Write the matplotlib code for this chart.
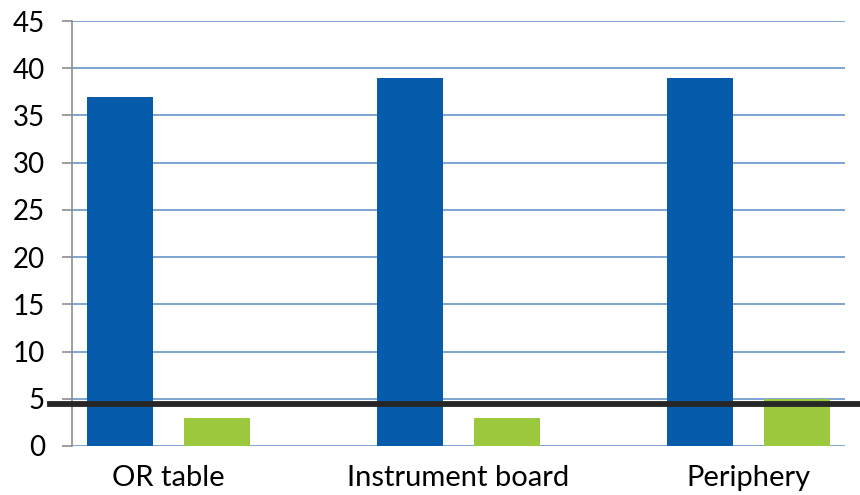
import matplotlib
matplotlib.use("Agg")
import matplotlib.pyplot as plt
import numpy as np

categories = ["OR table", "Instrument board", "Periphery"]
series_blue = [37, 39, 39]
series_green = [3, 3, 5]
threshold = 4.5
yticks = [0, 5, 10, 15, 20, 25, 30, 35, 40, 45]

plt.rcParams['font.family'] = ['Lato', 'DejaVu Sans']

fig = plt.figure(figsize=(8.6, 4.95), dpi=100)
ax = fig.add_axes([72/860, 1-446/495, (845-72)/860, (446-21)/495])

x = np.arange(len(categories))
w = 0.228
off = 0.167
ax.bar(x - off, series_blue, width=w, color="#065BAA", zorder=3)
ax.bar(x + off, series_green, width=w, color="#9BC83C", zorder=3)

ax.set_xlim(-0.333, 2.334)
ax.set_ylim(0, 45)
ax.set_yticks(yticks)
ax.set_yticklabels([str(t) for t in yticks])
ax.set_xticks(x)
ax.set_xticklabels(categories)

for t in yticks:
    ax.axhline(t, color="#5B8BC9", linewidth=1.1, zorder=1)

ax.axhline(threshold, xmin=(50-72)/773, xmax=(862-72)/773, color="#262626",
           linewidth=4.2, zorder=5, clip_on=False)

for s in ["top", "right", "bottom"]:
    ax.spines[s].set_visible(False)
ax.spines["left"].set_color("#8C8C8C")
ax.spines["left"].set_linewidth(1.2)
ax.tick_params(axis="y", length=7.5, width=1.2, color="#8C8C8C", pad=12,
               labelsize=20, labelcolor="#000000")
ax.tick_params(axis="x", length=0, pad=14, labelsize=21, labelcolor="#000000")

fig.savefig("out.png", dpi=100)
